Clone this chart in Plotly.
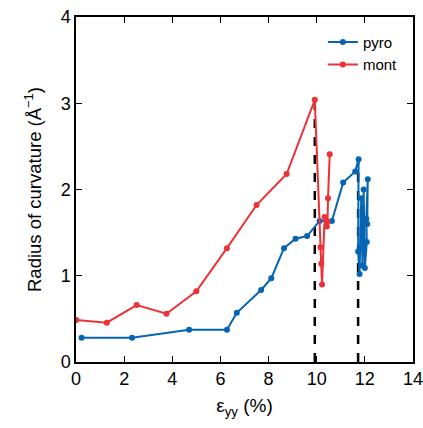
import plotly.graph_objects as go

# Strain (%) and radius of curvature (1/Å) for each structure
pyro_strain = [0.23, 2.33, 4.70, 6.27, 6.68, 7.69, 8.11, 8.64, 9.12, 9.60, 10.12, 10.63,
               11.10, 11.60, 11.74, 11.72, 11.78, 11.85, 11.90, 11.95, 12.00, 12.08,
               12.06, 12.12, 12.10]
pyro_radius = [0.28, 0.28, 0.375, 0.375, 0.57, 0.835, 0.97, 1.32, 1.43, 1.46, 1.635, 1.635,
               2.08, 2.21, 2.35, 1.28, 1.02, 1.90, 1.12, 2.00, 1.09, 1.39,
               1.66, 2.12, 1.60]

mont_strain = [0.01, 1.28, 2.52, 3.76, 5.00, 6.27, 7.50, 8.75, 9.92, 10.16, 10.19, 10.22,
               10.33, 10.42, 10.45, 10.47, 10.54]
mont_radius = [0.487, 0.456, 0.66, 0.56, 0.82, 1.32, 1.82, 2.18, 3.04, 1.33, 1.14, 0.90,
               1.68, 1.57, 1.63, 1.90, 2.41]

# Failure strains marked by dashed drop lines
fail_strain = [9.92, 11.72]
fail_radius = [3.04, 2.35]

x_ticks = [0, 2, 4, 6, 8, 10, 12, 14]
y_ticks = [0, 1, 2, 3, 4]

BLUE = "#0565B4"
RED = "#EC3237"
FONT = "Liberation Sans, Arial"

fig = go.Figure()

for xs, ys in zip(fail_strain, fail_radius):
    fig.add_trace(go.Scatter(x=[xs, xs], y=[0, ys], mode="lines",
                             line=dict(color="black", width=2.5, dash="dash"),
                             showlegend=False, hoverinfo="skip"))

fig.add_trace(go.Scatter(x=pyro_strain, y=pyro_radius, mode="lines+markers", name="pyro",
                         line=dict(color=BLUE, width=2), marker=dict(color=BLUE, size=6)))
fig.add_trace(go.Scatter(x=mont_strain, y=mont_radius, mode="lines+markers", name="mont",
                         line=dict(color=RED, width=2), marker=dict(color=RED, size=6)))

axis_common = dict(showline=True, linecolor="black", linewidth=1.5, mirror="ticks",
                   ticks="inside", ticklen=6, tickwidth=1, tickcolor="black",
                   showgrid=False, zeroline=False, automargin=False,
                   ticklabeloverflow="allow",
                   tickfont=dict(family=FONT, size=18, color="black"))

fig.update_xaxes(range=[0, 14], tickvals=x_ticks, ticktext=[str(v) for v in x_ticks],
                 title=dict(text="ε<sub>yy</sub> (%)", standoff=10,
                            font=dict(family=FONT, size=19, color="black")),
                 **axis_common)
fig.update_yaxes(range=[0, 4], tickvals=y_ticks, ticktext=[str(v) for v in y_ticks],
                 title=dict(text="Radius of curvature (Å<sup>−1</sup>)", standoff=14,
                            font=dict(family=FONT, size=18.5, color="black")),
                 **axis_common)

fig.update_layout(
    width=423, height=428,
    margin=dict(l=76, r=10, t=17, b=66),
    plot_bgcolor="white", paper_bgcolor="white",
    legend=dict(x=0.97, y=0.975, xanchor="right", yanchor="top",
                bgcolor="rgba(0,0,0,0)", itemwidth=30, tracegroupgap=0,
                font=dict(family=FONT, size=15, color="black")),
)

fig.write_html("out.html")
